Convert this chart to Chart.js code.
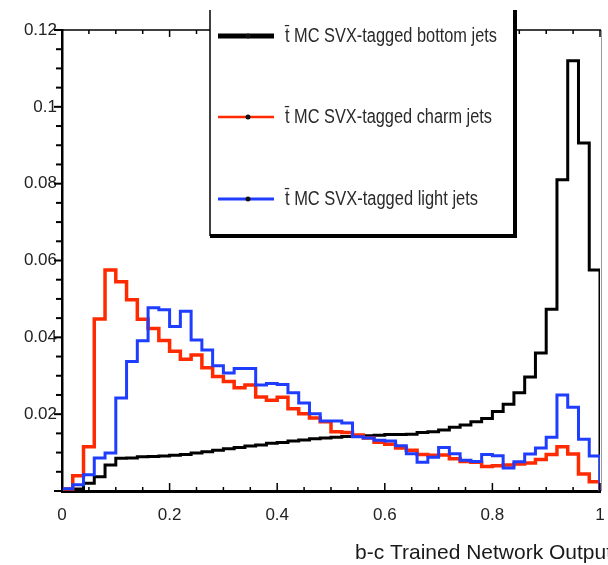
<!DOCTYPE html>
<html>
<head>
<meta charset="utf-8">
<script src="https://cdn.jsdelivr.net/npm/chart.js@4.4.0/dist/chart.umd.min.js"></script>
<style>
  html, body { margin: 0; padding: 0; background: #fff; }
  canvas { display: block; }
</style>
</head>
<body>
<canvas id="chart" width="608" height="565"></canvas>
<script>
// 50 bins between 0 and 1 (network output)
const nBins = 50;
const binEdges = Array.from({ length: nBins + 1 }, (_, i) => i / nBins);

const seriesNames = [
  "t\u0304 MC SVX-tagged bottom jets",
  "t\u0304 MC SVX-tagged charm jets",
  "t\u0304 MC SVX-tagged light jets"
];

// bin contents
const bottomJets = [
  0, 0.0005, 0.002, 0.0037, 0.0068, 0.0085, 0.0086, 0.0089, 0.009, 0.0091,
  0.0093, 0.0095, 0.0099, 0.0102, 0.0106, 0.011, 0.0113, 0.0117, 0.012, 0.0124,
  0.0126, 0.013, 0.0133, 0.0136, 0.0138, 0.014, 0.0142, 0.0143, 0.0144, 0.0145,
  0.0147, 0.0147, 0.0148, 0.0152, 0.0154, 0.0159, 0.0166, 0.0172, 0.018, 0.0189,
  0.0207, 0.0226, 0.0256, 0.0297, 0.0359, 0.0473, 0.081, 0.112, 0.0906, 0.0575
];
const charmJets = [
  0.0005, 0.004, 0.0115, 0.0448, 0.0575, 0.0545, 0.0498, 0.0447, 0.0423, 0.0392,
  0.0364, 0.0343, 0.0354, 0.0321, 0.0298, 0.0285, 0.0269, 0.0276, 0.0245, 0.0236,
  0.0244, 0.0214, 0.0201, 0.019, 0.018, 0.0154, 0.0152, 0.0146, 0.0138, 0.0127,
  0.0122, 0.0112, 0.0106, 0.0095, 0.0093, 0.0094, 0.0084, 0.0077, 0.0075, 0.0064,
  0.0066, 0.0068, 0.007, 0.0073, 0.0082, 0.0095, 0.0115, 0.0096, 0.0044, 0.0024
];
const lightJets = [
  0.0006, 0.0016, 0.0042, 0.0086, 0.0099, 0.0242, 0.0337, 0.0391, 0.0477, 0.0472,
  0.0428, 0.0468, 0.0393, 0.0367, 0.0326, 0.0307, 0.0319, 0.0319, 0.0276, 0.028,
  0.0277, 0.0256, 0.0229, 0.0201, 0.0182, 0.0182, 0.0177, 0.0141, 0.0138, 0.0132,
  0.013, 0.0118, 0.0097, 0.0075, 0.0088, 0.0113, 0.0097, 0.008, 0.0077, 0.0095,
  0.0092, 0.006, 0.0076, 0.0096, 0.0112, 0.014, 0.025, 0.0218, 0.0135, 0.0091
];

const xTicks = [0, 0.2, 0.4, 0.6, 0.8, 1];
const yTicks = [0.02, 0.04, 0.06, 0.08, 0.1, 0.12];
const xTitle = "b-c Trained Network Output";

const colours = ["#000000", "#ff2a00", "#1f3dff"];
const widths = [3, 3.5, 3];

// left edge of each bin, then drop to zero at the end
function histPoints(values) {
  const pts = values.map((v, i) => ({ x: binEdges[i], y: v }));
  pts.push({ x: binEdges[nBins], y: 0 });
  return pts;
}

const FONT = '"Liberation Sans", Arial, sans-serif';

function fitText(ctx, text, x, y, width, size, align, colour) {
  ctx.save();
  ctx.font = size + "px " + FONT;
  ctx.fillStyle = colour;
  ctx.textBaseline = "middle";
  const w = ctx.measureText(text).width;
  ctx.translate(x, y);
  ctx.scale(width / w, 1);
  ctx.textAlign = align;
  ctx.fillText(text, 0, 0);
  ctx.restore();
}

const framePlugin = {
  id: "frame",
  afterDraw(chart) {
    const { ctx, chartArea: a, scales: { x, y } } = chart;
    ctx.save();
    ctx.strokeStyle = "#000";

    // top frame with small ticks
    ctx.lineWidth = 1.5;
    ctx.beginPath();
    ctx.moveTo(a.left, a.top);
    ctx.lineTo(a.right + 1, a.top);
    ctx.stroke();
    for (let i = 0; i <= 20; i++) {
      const px = x.getPixelForValue(i * 0.05);
      ctx.beginPath();
      ctx.moveTo(px, a.top);
      ctx.lineTo(px, a.top + (i % 4 === 0 ? 7 : 4));
      ctx.stroke();
    }

    // right frame, thin grey
    ctx.strokeStyle = "#999";
    ctx.lineWidth = 1;
    ctx.beginPath();
    ctx.moveTo(a.right + 1.5, a.top);
    ctx.lineTo(a.right + 1.5, a.bottom);
    ctx.stroke();

    // bottom ticks pointing up
    ctx.strokeStyle = "#000";
    ctx.lineWidth = 1.5;
    for (let i = 0; i <= 20; i++) {
      const px = x.getPixelForValue(i * 0.05);
      ctx.beginPath();
      ctx.moveTo(px, a.bottom);
      ctx.lineTo(px, a.bottom - (i % 4 === 0 ? 8 : 4));
      ctx.stroke();
    }

    // left ticks pointing out
    ctx.lineWidth = 2;
    for (let i = 0; i <= 24; i++) {
      const py = y.getPixelForValue(i * 0.005);
      ctx.beginPath();
      ctx.moveTo(a.left, py);
      ctx.lineTo(a.left - (i % 4 === 0 ? 8 : 6), py);
      ctx.stroke();
    }

    // legend box with shadow edges
    const bx0 = 210, bx1 = 515, by0 = 10, by1 = 236;
    ctx.fillStyle = "#fff";
    ctx.fillRect(bx0, by0, bx1 - bx0, by1 - by0);
    ctx.lineWidth = 1.5;
    ctx.beginPath();
    ctx.moveTo(bx0, by0);
    ctx.lineTo(bx0, by1);
    ctx.stroke();
    ctx.lineWidth = 4;
    ctx.beginPath();
    ctx.moveTo(bx0, by1);
    ctx.lineTo(bx1, by1);
    ctx.lineTo(bx1, by0);
    ctx.stroke();

    const rows = [36, 117, 199];
    const ends = [497, 492, 478];
    const legendWidths = [5, 2.5, 3];
    seriesNames.forEach((name, i) => {
      const ly = rows[i];
      ctx.strokeStyle = colours[i];
      ctx.lineWidth = legendWidths[i];
      ctx.beginPath();
      ctx.moveTo(218, ly);
      ctx.lineTo(274, ly);
      ctx.stroke();
      ctx.fillStyle = "#111";
      ctx.beginPath();
      ctx.arc(248, ly, 2.5, 0, Math.PI * 2);
      ctx.fill();
      fitText(ctx, name, 285, ly, ends[i] - 285, 20, "left", "#2a2a2a");
    });

    // axis title, right aligned and running off the edge
    fitText(ctx, xTitle, 612, 553, 257, 21, "right", "#1a1a1a");
    ctx.restore();
  }
};

new Chart(document.getElementById("chart"), {
  type: "line",
  data: {
    datasets: seriesNames.map((name, i) => ({
      label: name,
      data: histPoints([bottomJets, charmJets, lightJets][i]),
      borderColor: colours[i],
      borderWidth: widths[i],
      stepped: "before",
      pointRadius: 0,
      fill: false,
      order: 2 - i
    }))
  },
  options: {
    responsive: false,
    animation: false,
    devicePixelRatio: 1,
    layout: { padding: { top: 30, right: 8, left: 0, bottom: 0 } },
    plugins: { legend: { display: false }, tooltip: { enabled: false } },
    scales: {
      x: {
        type: "linear",
        min: 0,
        max: 1,
        afterBuildTicks: s => { s.ticks = xTicks.map(v => ({ value: v })); },
        afterFit: s => { s.height = 74; s.paddingLeft = 0; s.paddingRight = 0; },
        grid: { display: false, drawTicks: false },
        border: { display: true, color: "#000", width: 3 },
        ticks: {
          padding: 14,
          color: "#222",
          font: { family: FONT, size: 17 },
          maxRotation: 0,
          callback: v => String(+v.toFixed(2))
        }
      },
      y: {
        min: 0,
        max: 0.12,
        afterBuildTicks: s => { s.ticks = yTicks.map(v => ({ value: v })); },
        afterFit: s => { s.width = 62; s.paddingTop = 0; s.paddingBottom = 0; },
        grid: { display: false, drawTicks: false },
        border: { display: true, color: "#000", width: 2.5 },
        ticks: {
          padding: 5,
          color: "#222",
          font: { family: FONT, size: 17 },
          callback: v => String(+v.toFixed(2))
        }
      }
    }
  },
  plugins: [framePlugin]
});
</script>
</body>
</html>
